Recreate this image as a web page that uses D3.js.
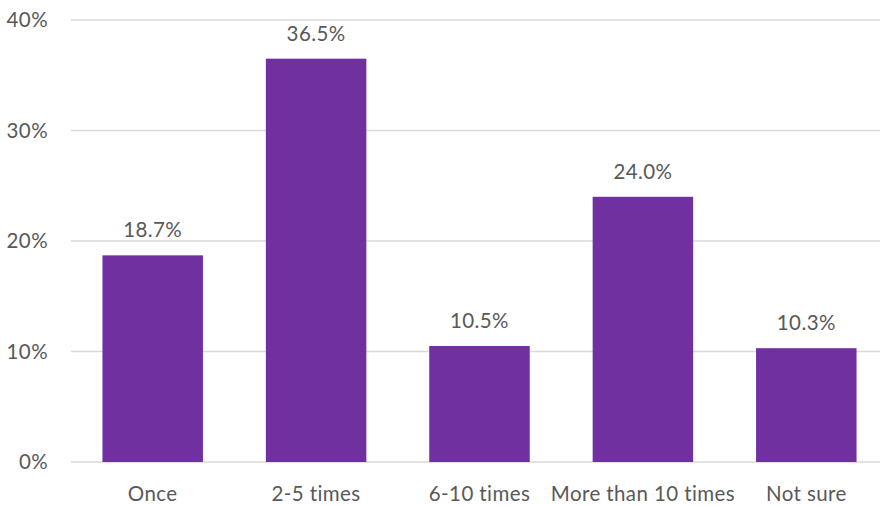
<!DOCTYPE html>
<html>
<head>
<meta charset="utf-8">
<script src="https://cdn.jsdelivr.net/npm/d3@7"></script>
<style>
  html, body { margin: 0; padding: 0; background: #fff; }
  svg text { font-family: Lato, "Open Sans", "Liberation Sans", sans-serif; fill: #595959; letter-spacing: 0.4px; }
</style>
</head>
<body>
<svg id="chart" width="880" height="506"></svg>
<script>
const categories = ["Once", "2-5 times", "6-10 times", "More than 10 times", "Not sure"];
const values = [18.7, 36.5, 10.5, 24.0, 10.3];
const yTicks = [0, 10, 20, 30, 40];

const svg = d3.select("#chart");
const x = d3.scaleBand().domain(categories).range([71, 888]).paddingInner(0.385).paddingOuter(0.1925);
const y = d3.scaleLinear().domain([0, 40]).range([462, 20]);
const fs = 20.5;

// gridlines
svg.append("g").selectAll("line").data(yTicks).join("line")
  .attr("x1", 71).attr("x2", 880)
  .attr("y1", d => y(d)).attr("y2", d => y(d))
  .attr("stroke", "#d9d9d9").attr("stroke-width", 1.3);

// y tick labels
svg.append("g").selectAll("text").data(yTicks).join("text")
  .attr("x", 48).attr("y", d => y(d)).attr("dy", "0.36em")
  .attr("text-anchor", "end").attr("font-size", fs)
  .text(d => d + "%");

// bars
svg.append("g").selectAll("rect").data(values).join("rect")
  .attr("x", (d, i) => x(categories[i]))
  .attr("width", x.bandwidth())
  .attr("y", d => y(d))
  .attr("height", d => y(0) - y(d))
  .attr("fill", "#7030a0");

// value labels
svg.append("g").selectAll("text").data(values).join("text")
  .attr("x", (d, i) => x(categories[i]) + x.bandwidth() / 2)
  .attr("y", d => y(d) - 18)
  .attr("text-anchor", "middle").attr("font-size", fs)
  .text(d => d.toFixed(1) + "%");

// category labels
svg.append("g").selectAll("text").data(categories).join("text")
  .attr("x", d => x(d) + x.bandwidth() / 2)
  .attr("y", 501)
  .attr("text-anchor", "middle").attr("font-size", fs)
  .text(d => d);
</script>
</body>
</html>
